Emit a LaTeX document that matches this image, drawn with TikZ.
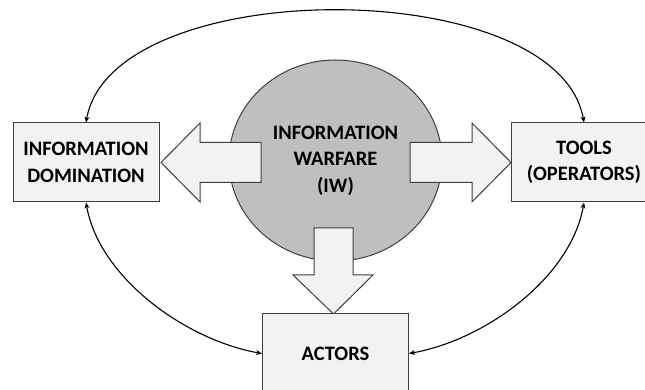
\documentclass[tikz,border=0pt]{standalone}
\usepackage{fontspec}
\setmainfont{Carlito}
\usepackage{tikz}
\usetikzlibrary{shapes.geometric}
\usetikzlibrary{arrows.meta}
\usetikzlibrary{positioning}

\tikzset{
  boxnode/.style={draw=edge, fill=light, line width=1pt, minimum width=146pt,
    minimum height=79pt, align=center, inner sep=0pt},
  bigarrow/.style={draw=edge, fill=light, line width=1pt, line join=miter},
  link/.style={line width=1.1pt, {Stealth[length=6pt,width=5pt]}-{Stealth[length=6pt,width=5pt]}},
}

\begin{document}
\begin{tikzpicture}[x=1pt,y=1pt, font=\fontsize{20.5}{26.5}\selectfont\bfseries]
      \definecolor{edge}{HTML}{3F3F3F}
      \definecolor{light}{HTML}{F2F2F2}
      \definecolor{mid}{HTML}{BFBFBF}
      \path[use as bounding box, clip] (0,0) rectangle (645,390);
      \node[ellipse, draw=edge, fill=mid, line width=1pt, minimum width=213pt,
        minimum height=201pt, align=center] (iw) at (335.5,229.5)
        {INFORMATION\\WARFARE\\(IW)};
      % block arrows out of the circle
      \draw[bigarrow] (261,247.5) -- (200,247.5) -- (200,267) -- (161,227.5)
        -- (200,188) -- (200,207.5) -- (261,207.5) -- cycle;
      \draw[bigarrow] (410,247.5) -- (472,247.5) -- (472,267) -- (511,227.5)
        -- (472,188) -- (472,207.5) -- (410,207.5) -- cycle;
      \draw[bigarrow] (314,162) -- (314,115) -- (293,115) -- (333.5,76)
        -- (373,115) -- (353,115) -- (353,162) -- cycle;
      \node[boxnode] (dom) at (86,227.5) {INFORMATION\\DOMINATION};
      \node[boxnode] (tools) at (584,227.5) {TOOLS\\(OPERATORS)};
      \node[boxnode] (actors) at (335.5,36.5) {ACTORS};
      \draw[link] (dom.north) to[out=80,in=100,looseness=0.78] (tools.north);
      \draw[link] (dom.south) to[out=-80,in=170,looseness=0.85] (actors.west);
      \draw[link] (tools.south) to[out=-100,in=10,looseness=0.85] (actors.east);
\end{tikzpicture}
\end{document}
